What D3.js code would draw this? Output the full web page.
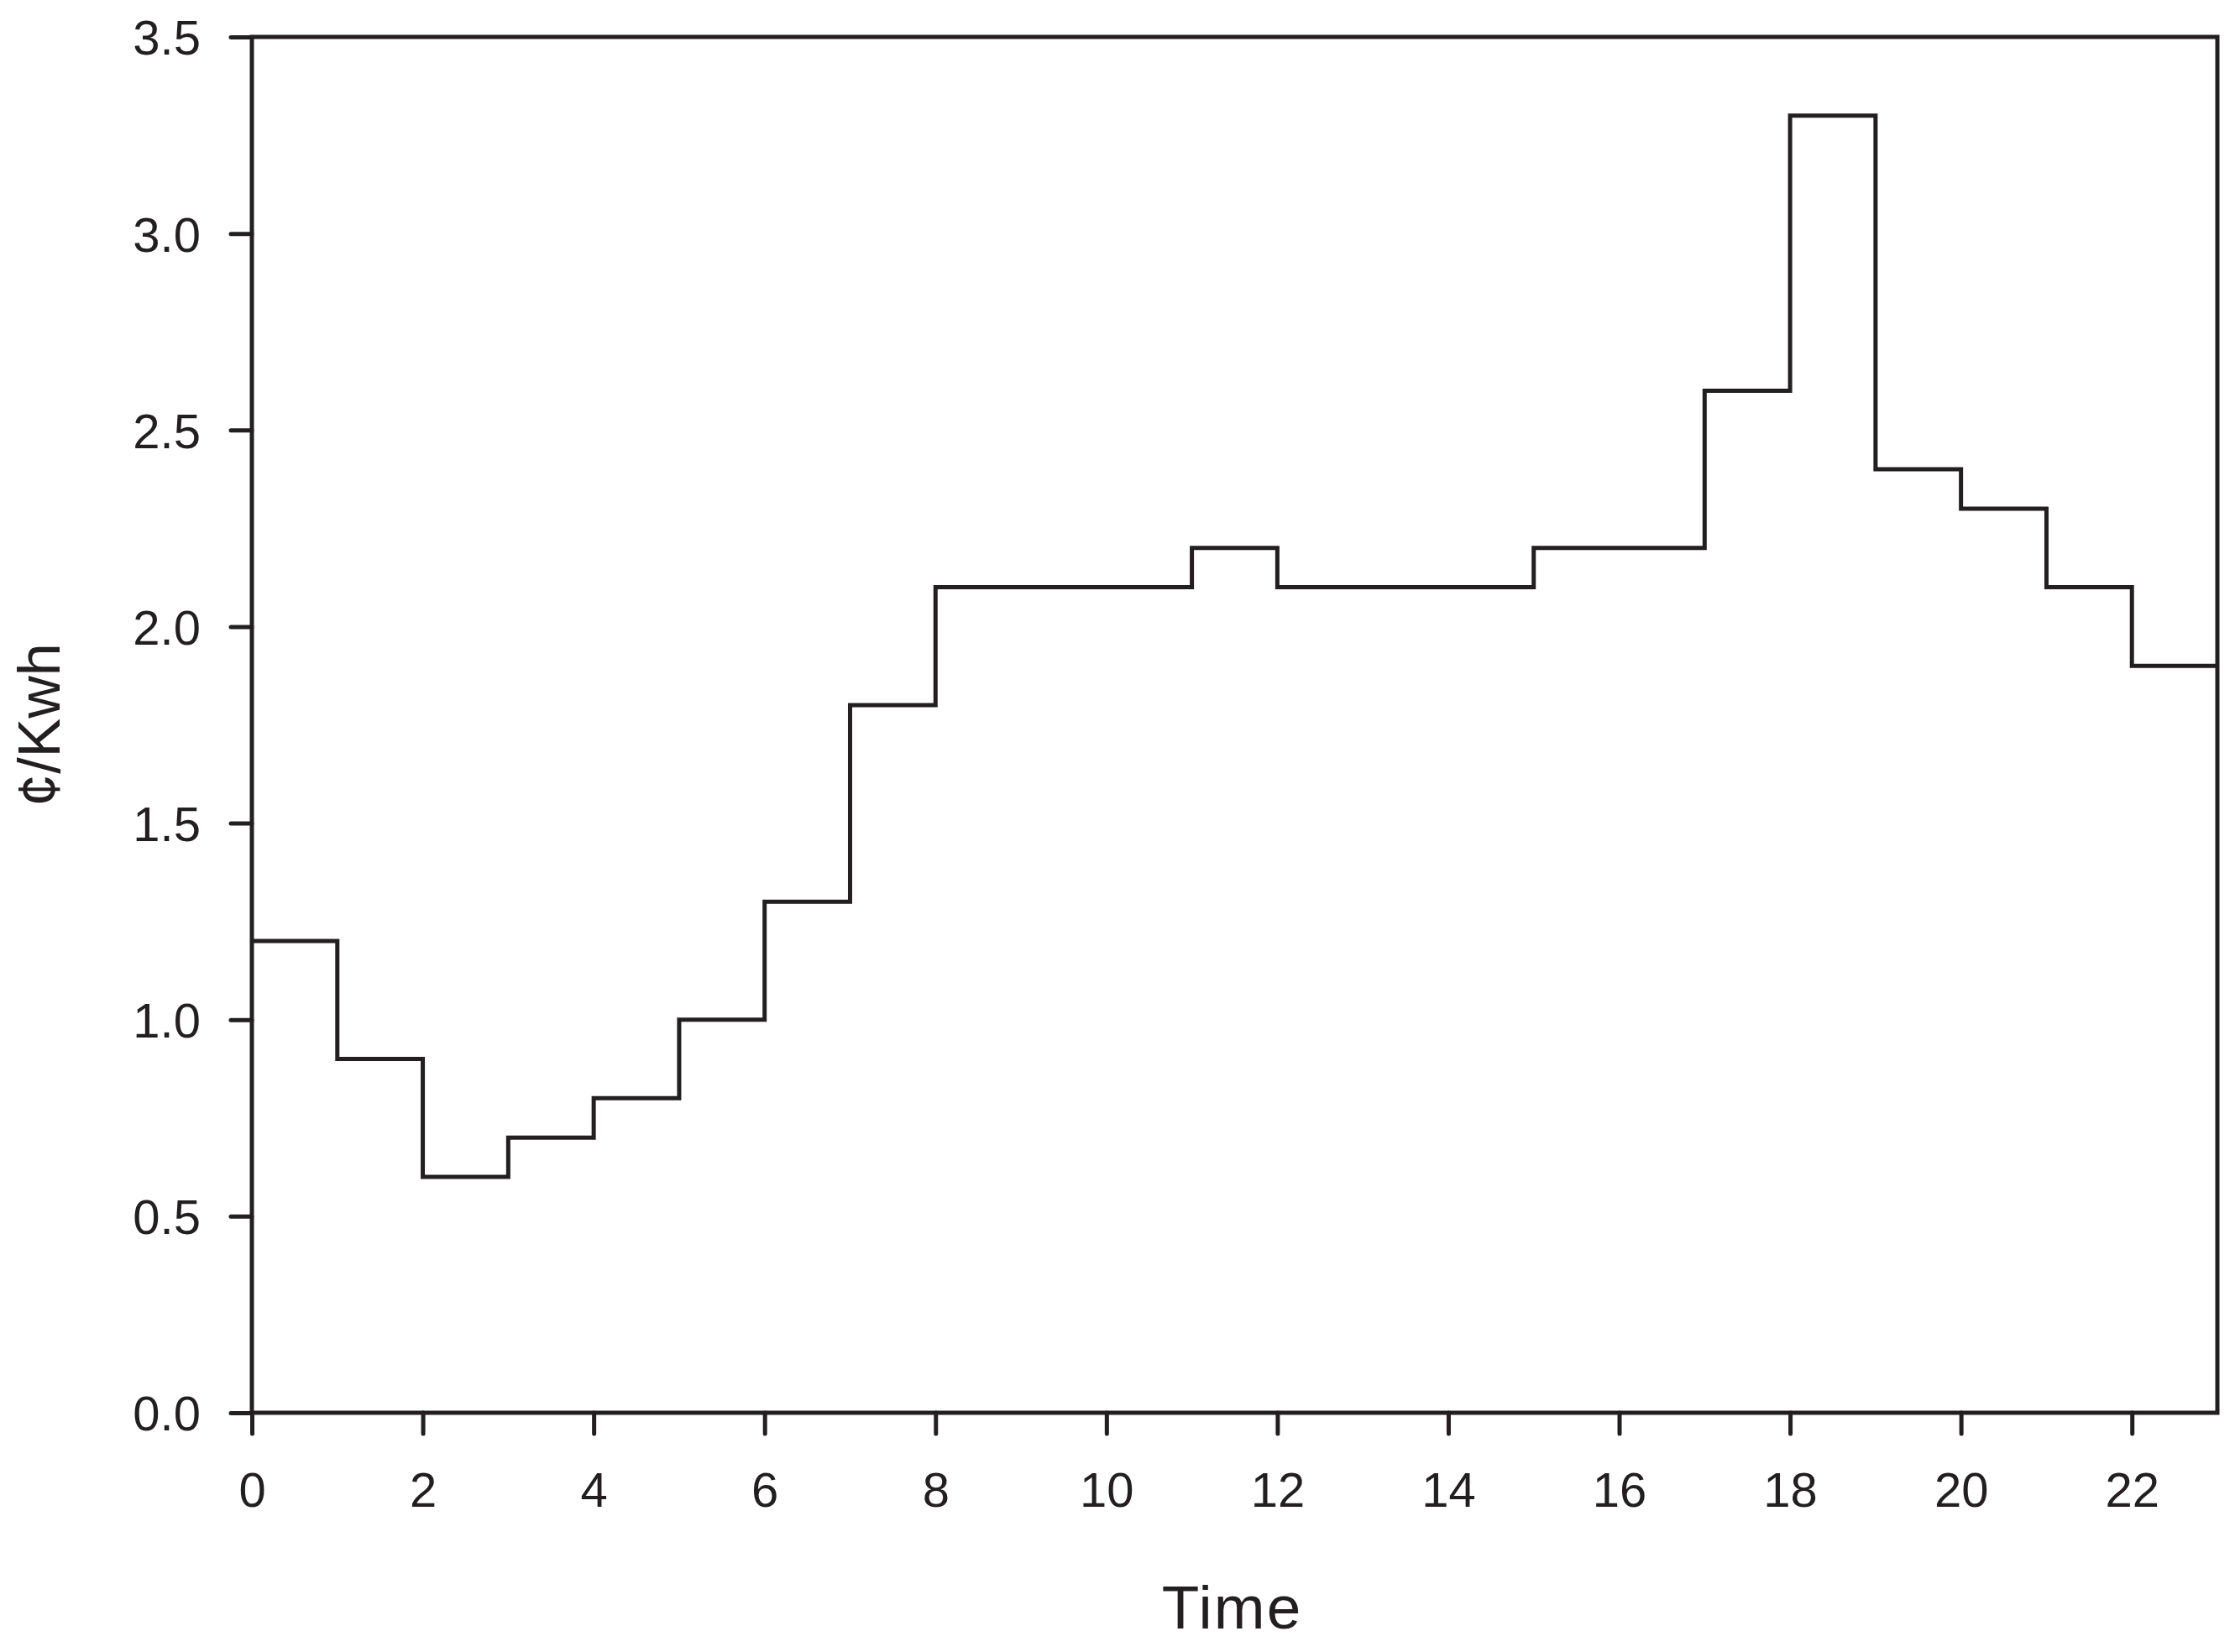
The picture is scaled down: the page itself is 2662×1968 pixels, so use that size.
<!DOCTYPE html>
<html>
<head>
<meta charset="utf-8">
<script src="https://cdn.jsdelivr.net/npm/d3@7"></script>
<style>
  html, body { margin: 0; padding: 0; background: #ffffff; }
  svg { display: block; }
  text { font-family: "Liberation Sans", Arial, sans-serif; fill: #231f20; }
</style>
</head>
<body>
<script>
// ---- data ----
const hours  = [0,1,2,3,4,5,6,7,8,9,10,11,12,13,14,15,16,17,18,19,20,21,22];
const prices = [1.2,0.9,0.6,0.7,0.8,1.0,1.3,1.8,2.1,2.1,2.1,2.2,2.1,2.1,2.1,2.2,2.2,2.6,3.3,2.4,2.3,2.1,1.9];
const xTicks = [0,2,4,6,8,10,12,14,16,18,20,22];
const yTicks = [0,0.5,1.0,1.5,2.0,2.5,3.0,3.5];
const xDomain = [0, 23];
const yDomain = [0, 3.5];
const xTitle = "Time";
const yTitle = "\u00A2/Kwh";

(function () {
  // ---- layout ----
  const W = 2662, H = 1968;
  const mLeft = 300, mRight = 2641, mTop = 44, mBottom = 1683;
  const ink = "#231f20";
  const sw = 5;

  const svg = d3.select("body").append("svg").attr("width", W).attr("height", H);

  const x = d3.scaleLinear().domain(xDomain).range([mLeft, mRight]);
  const y = d3.scaleLinear().domain(yDomain).range([mBottom, mTop]);

  // step line
  const pts = hours.map((h, i) => [h, prices[i]]);
  pts.push([xDomain[1], prices[prices.length - 1]]);
  const line = d3.line().x(d => x(d[0])).y(d => y(d[1])).curve(d3.curveStepAfter);
  svg.append("path")
    .attr("d", line(pts))
    .attr("fill", "none")
    .attr("stroke", ink)
    .attr("stroke-width", sw)
    .attr("stroke-linejoin", "miter");

  // frame
  svg.append("rect")
    .attr("x", mLeft).attr("y", mTop)
    .attr("width", mRight - mLeft).attr("height", mBottom - mTop)
    .attr("fill", "none").attr("stroke", ink).attr("stroke-width", sw);

  // axes
  const fontSize = 58;
  const xAxis = d3.axisBottom(x).tickValues(xTicks).tickSize(25).tickSizeOuter(0).tickPadding(46)
    .tickFormat(d3.format("d"));
  const yAxis = d3.axisLeft(y).tickValues(yTicks).tickSize(25).tickSizeOuter(0).tickPadding(36)
    .tickFormat(d3.format(".1f"));

  const gx = svg.append("g").attr("transform", `translate(0,${mBottom})`).call(xAxis);
  const gy = svg.append("g").attr("transform", `translate(${mLeft},0)`).call(yAxis);

  [gx, gy].forEach(g => {
    g.select(".domain").remove();
    g.selectAll(".tick line").attr("stroke", ink).attr("stroke-width", sw).attr("stroke-linecap", "round");
    g.selectAll(".tick text")
      .attr("font-size", fontSize)
      .attr("font-family", "Liberation Sans, Arial, sans-serif")
      .attr("fill", ink);
  });
  gy.selectAll(".tick text").attr("dy", "0.36em");

  // axis titles
  svg.append("text")
    .attr("x", (mLeft + mRight) / 2 - 3)
    .attr("y", 1940)
    .attr("text-anchor", "middle")
    .attr("font-size", 73)
    .attr("letter-spacing", 2)
    .text(xTitle);

  svg.append("text")
    .attr("transform", `translate(71,${(mTop + mBottom) / 2}) rotate(-90)`)
    .attr("text-anchor", "middle")
    .attr("font-size", 70)
    .text(yTitle);
})();
</script>
</body>
</html>
